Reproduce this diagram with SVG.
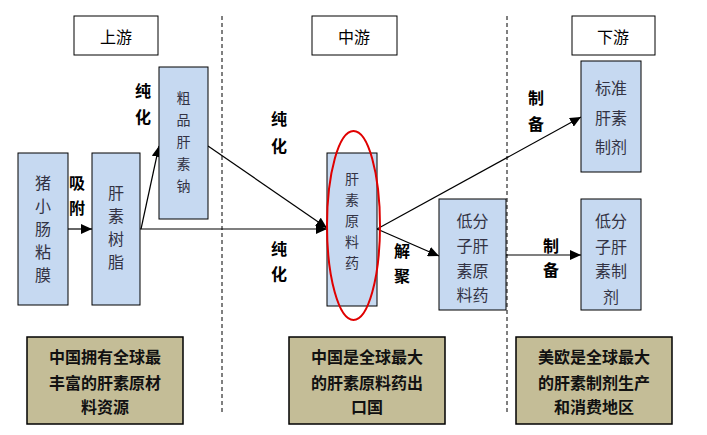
<svg xmlns="http://www.w3.org/2000/svg" width="707" height="435" viewBox="0 0 707 435">
<style>
.hdr{fill:#fff;stroke:#000;stroke-width:1}
.node{fill:#c6d9f1;stroke:#000;stroke-width:1}
.note{fill:#c4bd97;stroke:#000;stroke-width:1.5}
.nt{font-family:"Noto Sans CJK SC","Noto Sans",sans-serif;font-size:16px;fill:#333344;text-anchor:middle;dominant-baseline:central}
.sm{font-size:14px}
.ht{font-family:"Noto Sans CJK SC","Noto Sans",sans-serif;font-size:16px;fill:#000;text-anchor:middle;dominant-baseline:central}
.lb{font-family:"Noto Sans CJK SC","Noto Sans",sans-serif;font-size:16px;font-weight:bold;fill:#000;text-anchor:middle;dominant-baseline:central}
.bt{font-family:"Noto Sans CJK SC","Noto Sans",sans-serif;font-size:16px;font-weight:bold;fill:#111;text-anchor:middle;dominant-baseline:central}
.dash{stroke:#000;stroke-width:1;stroke-dasharray:4 3;fill:none}
.conn{stroke:#000;stroke-width:1.2;fill:none;marker-end:url(#ah)}
</style>
<defs>
<marker id="ah" markerUnits="userSpaceOnUse" markerWidth="12" markerHeight="10" refX="11" refY="5" orient="auto">
<path d="M0,0 L11,5 L0,10 Z" fill="#000"/>
</marker>
</defs>
<rect width="707" height="435" fill="#fff"/>
<g id="dividers">
<line class="dash" x1="222" y1="16" x2="222" y2="412"/>
<line class="dash" x1="507" y1="16" x2="507" y2="412"/>
</g>
<g id="hdr-up"><rect class="hdr" x="74" y="16" width="84" height="39"/><text class="ht" x="116" y="36">上游</text></g>
<g id="hdr-mid"><rect class="hdr" x="312" y="16" width="85" height="39"/><text class="ht" x="354" y="36">中游</text></g>
<g id="hdr-down"><rect class="hdr" x="572" y="16" width="83" height="39"/><text class="ht" x="613" y="36">下游</text></g>
<g id="connectors">
<line class="conn" x1="68" y1="229" x2="92" y2="229"/>
<line class="conn" x1="141" y1="229" x2="159" y2="146"/>
<line class="conn" x1="208" y1="146" x2="327" y2="228"/>
<line class="conn" x1="140" y1="229" x2="327" y2="229"/>
<line class="conn" x1="377" y1="229" x2="581" y2="117"/>
<line class="conn" x1="377" y1="229" x2="439" y2="256"/>
<line class="conn" x1="506" y1="255" x2="581" y2="255"/>
</g>
<g id="labels">
<text class="lb" x="143" y="90">纯</text><text class="lb" x="143" y="116">化</text>
<text class="lb" x="77" y="182">吸</text><text class="lb" x="77" y="207">附</text>
<text class="lb" x="279" y="118">纯</text><text class="lb" x="279" y="145">化</text>
<text class="lb" x="279" y="248">纯</text><text class="lb" x="279" y="273">化</text>
<text class="lb" x="402" y="250">解</text><text class="lb" x="402" y="275">聚</text>
<text class="lb" x="536" y="97">制</text><text class="lb" x="536" y="123">备</text>
<text class="lb" x="551" y="245">制</text><text class="lb" x="551" y="269">备</text>
</g>
<g id="n-mucosa"><rect class="node" x="18" y="153" width="50" height="152"/>
<text class="nt" x="43" y="182">猪</text><text class="nt" x="43" y="205">小</text><text class="nt" x="43" y="228">肠</text><text class="nt" x="43" y="251">粘</text><text class="nt" x="43" y="274">膜</text></g>
<g id="n-resin"><rect class="node" x="92" y="153" width="48" height="152"/>
<text class="nt" x="116" y="192">肝</text><text class="nt" x="116" y="215">素</text><text class="nt" x="116" y="238">树</text><text class="nt" x="116" y="261">脂</text></g>
<g id="n-crude"><rect class="node" x="159" y="67" width="49" height="152"/>
<text class="nt sm" x="183.5" y="97">粗</text><text class="nt sm" x="183.5" y="119">品</text><text class="nt sm" x="183.5" y="141">肝</text><text class="nt sm" x="183.5" y="163">素</text><text class="nt sm" x="183.5" y="185">钠</text></g>
<g id="n-api"><rect class="node" x="327" y="153" width="50" height="153"/>
<text class="nt sm" x="352" y="178">肝</text><text class="nt sm" x="352" y="199">素</text><text class="nt sm" x="352" y="220">原</text><text class="nt sm" x="352" y="241">料</text><text class="nt sm" x="352" y="262">药</text>
<ellipse cx="353.5" cy="225.5" rx="26.5" ry="94.5" fill="none" stroke="#e00000" stroke-width="2"/></g>
<g id="n-lmwh-api"><rect class="node" x="439" y="199" width="67" height="111"/>
<text class="nt" x="472.5" y="220">低分</text><text class="nt" x="472.5" y="245">子肝</text><text class="nt" x="472.5" y="270">素原</text><text class="nt" x="472.5" y="294">料药</text></g>
<g id="n-std"><rect class="node" x="581" y="61" width="60" height="111"/>
<text class="nt" x="611" y="87">标准</text><text class="nt" x="611" y="117">肝素</text><text class="nt" x="611" y="146">制剂</text></g>
<g id="n-lmwh"><rect class="node" x="581" y="199" width="60" height="111"/>
<text class="nt" x="611" y="220">低分</text><text class="nt" x="611" y="246">子肝</text><text class="nt" x="611" y="270">素制</text><text class="nt" x="611" y="296">剂</text></g>
<g id="note-up"><rect class="note" x="27" y="337" width="156" height="87"/>
<text class="bt" x="105" y="356">中国拥有全球最</text><text class="bt" x="105" y="382">丰富的肝素原材</text><text class="bt" x="105" y="406">料资源</text></g>
<g id="note-mid"><rect class="note" x="289" y="337" width="156" height="87"/>
<text class="bt" x="367" y="356">中国是全球最大</text><text class="bt" x="367" y="382">的肝素原料药出</text><text class="bt" x="367" y="406">口国</text></g>
<g id="note-down"><rect class="note" x="516" y="337" width="156" height="87"/>
<text class="bt" x="594" y="356">美欧是全球最大</text><text class="bt" x="594" y="382">的肝素制剂生产</text><text class="bt" x="594" y="406">和消费地区</text></g>
</svg>
